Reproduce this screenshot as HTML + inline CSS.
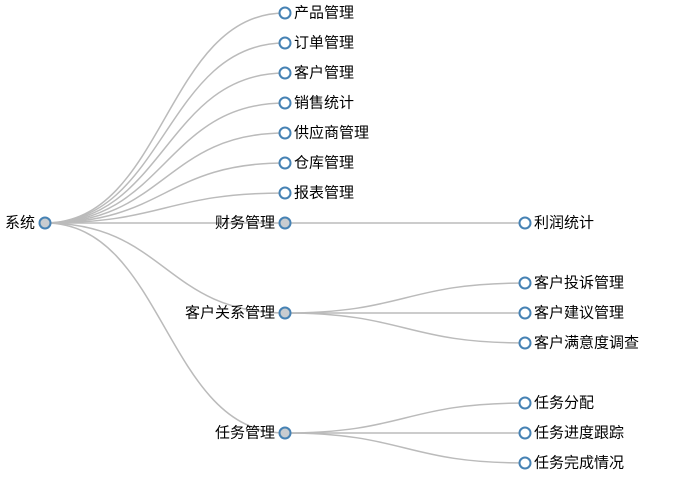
<!DOCTYPE html>
<html><head><meta charset="utf-8"><style>
html,body{margin:0;padding:0;background:#fff;}
svg{display:block;font-family:"Liberation Sans","Noto Sans CJK SC",sans-serif;font-size:15px;}
path{fill:none;stroke:#bbb;stroke-width:1.5;}
circle{stroke:#4682b4;stroke-width:2;fill:#fff;}
circle.c{fill:#c8ccd0;}
text{fill:#000;dominant-baseline:central;}
</style></head><body>
<svg width="681" height="484" viewBox="0 0 681 484">
<g transform="translate(0,1)">
<g>
<path d="M45,222C165,222 165,12 285,12"/>
<path d="M45,222C165,222 165,42 285,42"/>
<path d="M45,222C165,222 165,72 285,72"/>
<path d="M45,222C165,222 165,102 285,102"/>
<path d="M45,222C165,222 165,132 285,132"/>
<path d="M45,222C165,222 165,162 285,162"/>
<path d="M45,222C165,222 165,192 285,192"/>
<path d="M45,222C165,222 165,222 285,222"/>
<path d="M45,222C165,222 165,312 285,312"/>
<path d="M45,222C165,222 165,432 285,432"/>
<path d="M285,222C405,222 405,222 525,222"/>
<path d="M285,312C405,312 405,282 525,282"/>
<path d="M285,312C405,312 405,312 525,312"/>
<path d="M285,312C405,312 405,342 525,342"/>
<path d="M285,432C405,432 405,402 525,402"/>
<path d="M285,432C405,432 405,432 525,432"/>
<path d="M285,432C405,432 405,462 525,462"/>
</g>
<circle class="c" cx="45" cy="222" r="5.5"/><text x="35" y="222" text-anchor="end">系统</text>
<circle cx="285" cy="12" r="5.5"/><text x="294" y="12">产品管理</text>
<circle cx="285" cy="42" r="5.5"/><text x="294" y="42">订单管理</text>
<circle cx="285" cy="72" r="5.5"/><text x="294" y="72">客户管理</text>
<circle cx="285" cy="102" r="5.5"/><text x="294" y="102">销售统计</text>
<circle cx="285" cy="132" r="5.5"/><text x="294" y="132">供应商管理</text>
<circle cx="285" cy="162" r="5.5"/><text x="294" y="162">仓库管理</text>
<circle cx="285" cy="192" r="5.5"/><text x="294" y="192">报表管理</text>
<circle class="c" cx="285" cy="222" r="5.5"/><text x="275" y="222" text-anchor="end">财务管理</text>
<circle class="c" cx="285" cy="312" r="5.5"/><text x="275" y="312" text-anchor="end">客户关系管理</text>
<circle class="c" cx="285" cy="432" r="5.5"/><text x="275" y="432" text-anchor="end">任务管理</text>
<circle cx="525" cy="222" r="5.5"/><text x="534" y="222">利润统计</text>
<circle cx="525" cy="282" r="5.5"/><text x="534" y="282">客户投诉管理</text>
<circle cx="525" cy="312" r="5.5"/><text x="534" y="312">客户建议管理</text>
<circle cx="525" cy="342" r="5.5"/><text x="534" y="342">客户满意度调查</text>
<circle cx="525" cy="402" r="5.5"/><text x="534" y="402">任务分配</text>
<circle cx="525" cy="432" r="5.5"/><text x="534" y="432">任务进度跟踪</text>
<circle cx="525" cy="462" r="5.5"/><text x="534" y="462">任务完成情况</text>
</g>
</svg>
</body></html>
